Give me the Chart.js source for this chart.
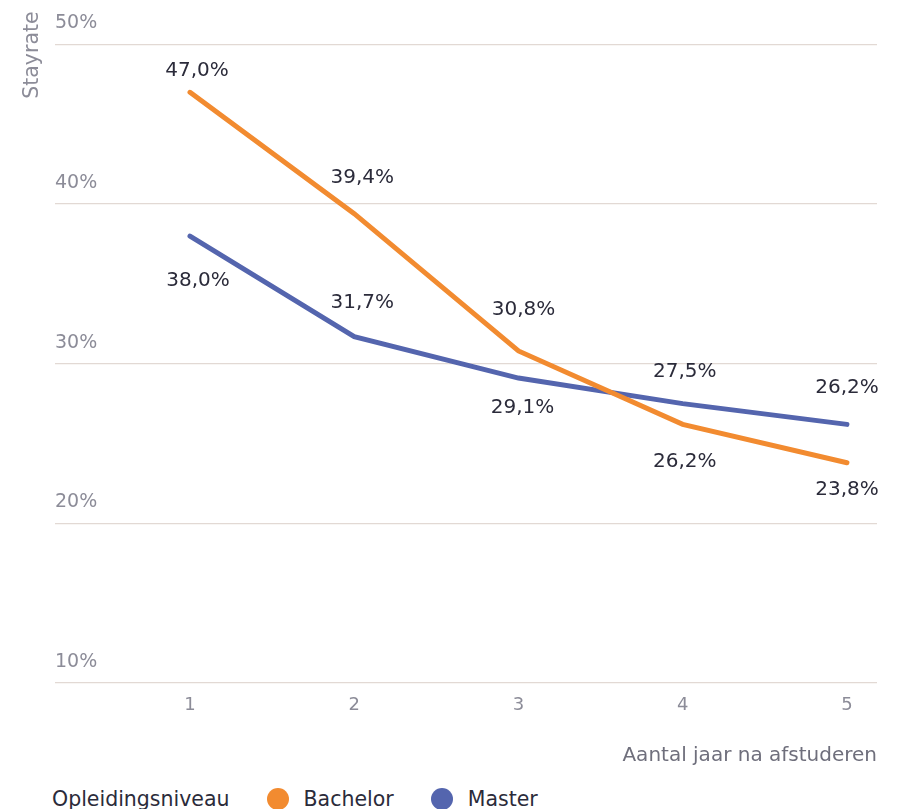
<!DOCTYPE html>
<html>
<head>
<meta charset="utf-8">
<script src="https://cdn.jsdelivr.net/npm/chart.js@4"></script>
<style>
  html, body { margin: 0; padding: 0; background: #fff; }
  body { width: 903px; height: 809px; overflow: hidden; font-family: 'DejaVu Sans', sans-serif; }
  #wrap { position: relative; width: 903px; height: 780px; }
  #legend { display: flex; align-items: center; height: 29px; padding-top: 4px; padding-left: 52px; font-size: 20.5px; color: #2b2b3a; }
  #legend .dot { display: inline-block; width: 22px; height: 22px; border-radius: 50%; margin: 0 15px 0 37px; }
</style>
</head>
<body>
<div id="wrap"><canvas id="chart"></canvas></div>
<div id="legend"></div>
<script>
Chart.defaults.font.family = "'DejaVu Sans', sans-serif";
Chart.defaults.font.size = 19;

// data
const years = [1, 2, 3, 4, 5];
const bachelor = [47.0, 39.4, 30.8, 26.2, 23.8];
const master = [38.0, 31.7, 29.1, 27.5, 26.2];
const yTicks = [10, 20, 30, 40, 50];
const seriesNames = ['Bachelor', 'Master'];
const legendTitle = 'Opleidingsniveau';

// label placement (pixels from point)
const labelShift = [
    [[7, -22], [8, -36], [5, -41], [2, 37], [0, 27]],
    [[8, 45], [8, -34], [4, 30], [2, -32], [0, -37]]
];

const colors = ['#f28b30', '#5465ae'];

const fmt = v => v.toFixed(1).replace('.', ',') + '%';

const valueLabels = {
    id: 'valueLabels',
    afterDatasetsDraw(chart) {
        const ctx = chart.ctx;
        ctx.save();
        ctx.font = "20px 'DejaVu Sans', sans-serif";
        ctx.fillStyle = '#2b2b3a';
        ctx.textAlign = 'center';
        ctx.textBaseline = 'middle';
        chart.data.datasets.forEach((ds, i) => {
            chart.getDatasetMeta(i).data.forEach((pt, j) => {
                const s = labelShift[i][j];
                ctx.fillText(fmt(ds.data[j].y), pt.x + s[0], pt.y + s[1]);
            });
        });
        ctx.restore();
    }
};

const data = {
    datasets: [
        { label: seriesNames[0], data: years.map((x, i) => ({ x, y: bachelor[i] })) },
        { label: seriesNames[1], data: years.map((x, i) => ({ x, y: master[i] })) }
    ].map((d, i) => Object.assign(d, {
        borderColor: colors[i],
        backgroundColor: colors[i],
        borderWidth: 5,
        pointRadius: 0,
        borderCapStyle: 'round',
        tension: 0
    }))
};

const options = {
    responsive: true,
    maintainAspectRatio: false,
    animation: false,
    layout: { padding: { top: 8, right: 26, left: 0, bottom: 0 } },
    plugins: {
        legend: { display: false },
        tooltip: { enabled: false }
    },
    scales: {
        x: {
            type: 'linear',
            min: 0.178,
            max: 5.183,
            afterBuildTicks: s => { s.ticks = years.map(v => ({ value: v })); },
            afterFit: s => { s.height = 97; },
            grid: { display: false },
            border: { display: false },
            ticks: { color: '#8c8c98', padding: 4, font: { size: 18 } },
            title: {
                display: true,
                text: 'Aantal jaar na afstuderen',
                align: 'end',
                color: '#6f6f7c',
                font: { size: 20 },
                padding: { top: 0, bottom: 12 }
            }
        },
        y: {
            min: 10,
            max: 52.07,
            afterBuildTicks: s => { s.ticks = yTicks.map(v => ({ value: v })); },
            afterFit: s => { s.width = 55; },
            grid: { color: '#e2d9d4', lineWidth: 1.2, drawTicks: false },
            border: { display: false },
            ticks: {
                mirror: true,
                padding: 0,
                labelOffset: -21,
                color: '#8c8c98',
                font: { size: 19 },
                callback: v => v + '%'
            },
            title: {
                display: true,
                text: 'Stayrate',
                align: 'end',
                color: '#8c8c98',
                font: { size: 20.5 },
                padding: { top: 20, bottom: 0 }
            }
        }
    }
};

new Chart(document.getElementById('chart'), {
    type: 'line',
    data,
    options,
    plugins: [valueLabels]
});

// legend
const legend = document.getElementById('legend');
const t = document.createElement('span');
t.textContent = legendTitle;
legend.appendChild(t);
seriesNames.forEach((n, i) => {
    const d = document.createElement('span');
    d.className = 'dot';
    d.style.background = colors[i];
    legend.appendChild(d);
    const s = document.createElement('span');
    s.textContent = n;
    legend.appendChild(s);
});
</script>
</body>
</html>
